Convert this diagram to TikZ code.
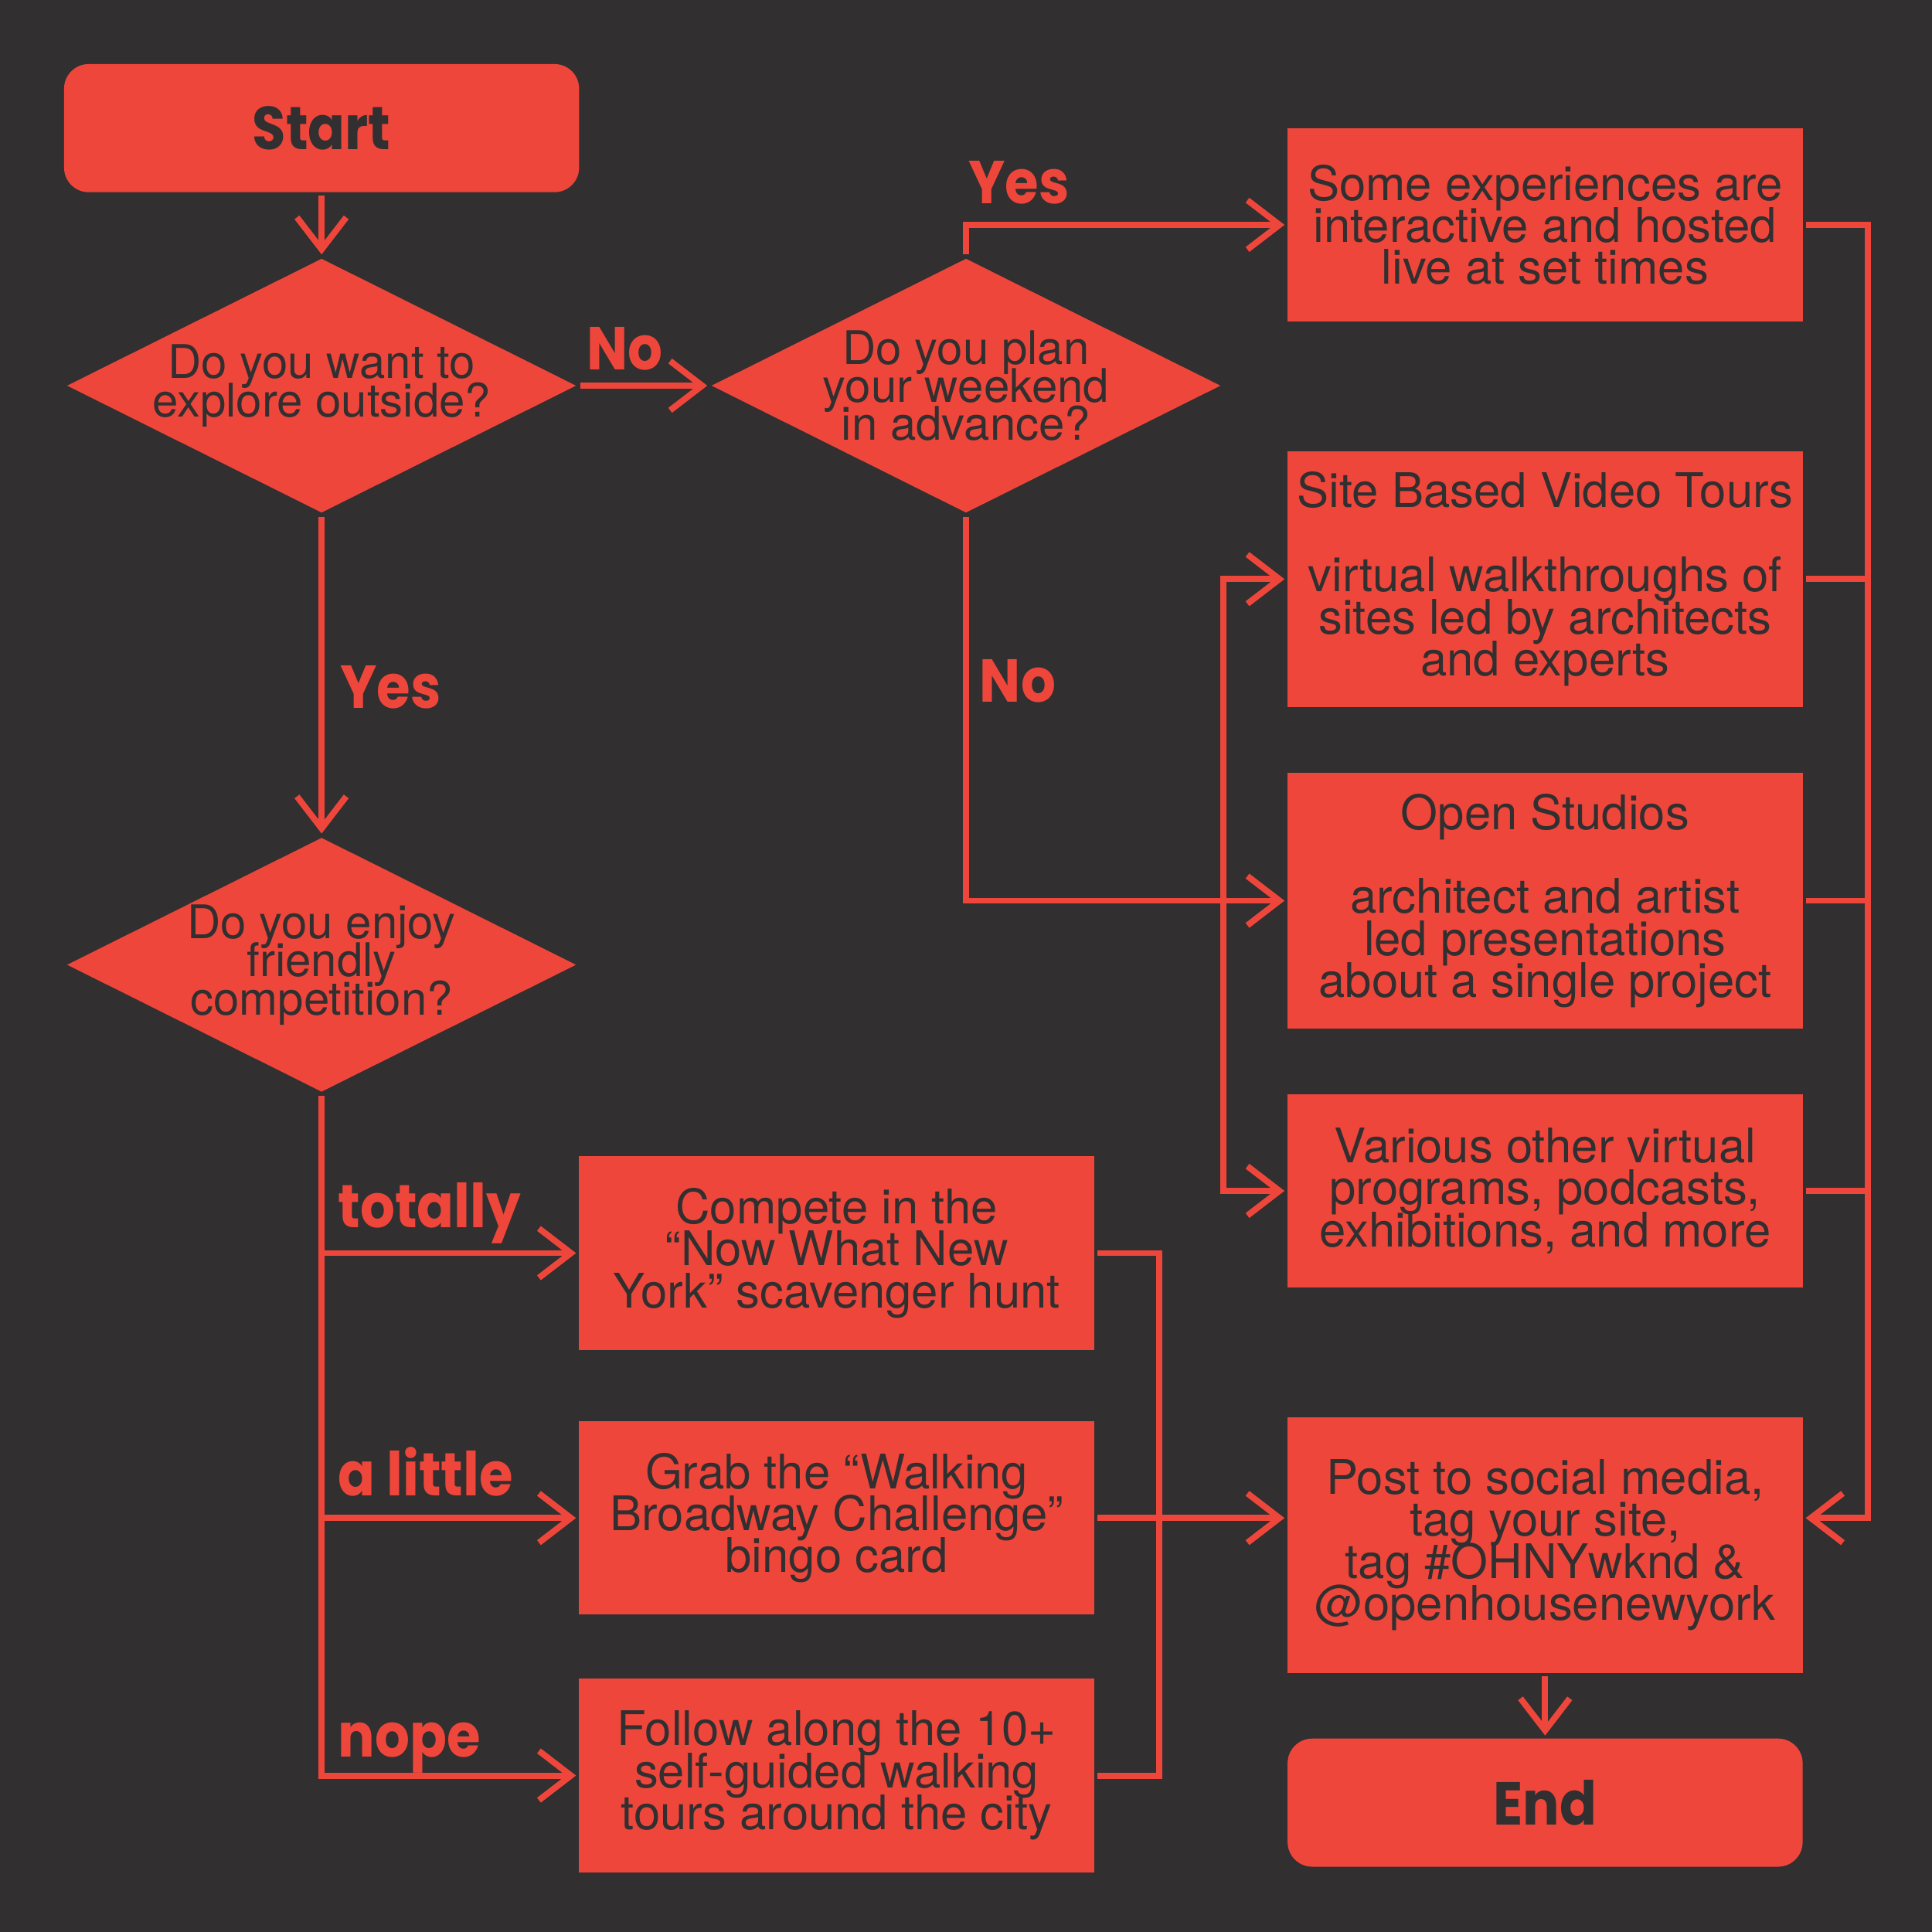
\documentclass[tikz,border=0pt]{standalone}
\usepackage{fontspec}
\setmainfont{TeX Gyre Heros}
\newfontfamily\labelfont{Poppins}[FakeStretch=0.9]
\usetikzlibrary{shapes.geometric, arrows.meta}
\definecolor{ohnybg}{HTML}{312F30}
\definecolor{ohnyred}{HTML}{EF463B}
\newcommand\tightlines{\lineskiplimit=-10pt\relax}
\begin{document}
\begin{tikzpicture}[line width=0.05cm,
    box/.style={rectangle, fill=ohnyred, text=ohnybg, minimum width=4.18cm, minimum height=1.57cm,
        inner sep=0pt, align=center, font=\fontsize{11}{9.7}\selectfont\tightlines},
    tall/.style={box, minimum height=2.08cm},
    terminal/.style={box, rounded corners=0.2cm, minimum height=1.04cm, font=\labelfont\bfseries\fontsize{14}{14}\selectfont},
    decision/.style={diamond, shape aspect=2, fill=ohnyred, text=ohnybg, minimum width=4.15cm, minimum height=2.08cm,
        inner sep=-6pt, align=center, font=\fontsize{10.7}{8.8}\selectfont\tightlines},
    lbl/.style={text=ohnyred, inner sep=0pt, font=\labelfont\bfseries\fontsize{14}{14}\selectfont},
    link/.style={draw=ohnyred},
    arr/.style={link, -{Straight Barb[length=2.6mm, width=4mm]}},
    twoarr/.style={link, {Straight Barb[length=2.6mm, width=4mm]}-{Straight Barb[length=2.6mm, width=4mm]}}]
\fill[ohnybg] (0,0) rectangle (15.68,-15.68);
\useasboundingbox (0,0) rectangle (15.68,-15.68);
% questions
\node[terminal] (start) at (2.61,-1.04) {Start};
\node[decision] (outside) at (2.61,-3.13) {Do you want to\\explore outside?};
\node[decision] (plan) at (7.84,-3.13) {Do you plan\\your weekend\\in advance?};
\node[decision] (friendly) at (2.61,-7.83) {Do you enjoy\\friendly\\competition?};
% virtual options
\node[box] (live) at (12.54,-1.825) {Some experiences are\\interactive and hosted\\live at set times};
\node[tall] (site) at (12.54,-4.70) {Site Based Video Tours\\[\baselineskip]virtual walkthroughs of\\sites led by architects\\and experts};
\node[tall] (studios) at (12.54,-7.31) {Open Studios\\[\baselineskip]architect and artist\\led presentations\\about a single project};
\node[box] (various) at (12.54,-9.665) {Various other virtual\\programs, podcasts,\\exhibitions, and more};
% outside options
\node[box] (hunt) at (6.79,-10.17) {Compete in the\\“Now What New\\York” scavenger hunt};
\node[box] (bingo) at (6.79,-12.32) {Grab the “Walking\\Broadway Challenge”\\bingo card};
\node[box] (tours) at (6.79,-14.41) {Follow along the 10+\\self-guided walking\\tours around the city};
% finish
\node[tall] (post) at (12.54,-12.54) {Post to social media,\\tag your site,\\tag \#OHNYwknd \&\\@openhousenewyork};
\node[terminal] (end) at (12.54,-14.63) {End};
\coordinate (fork) at (9.93,-7.31);
\coordinate (merge) at (9.41,-12.32);
\coordinate (rail) at (15.16,-12.32);

\draw[arr] (start) -- (outside);
\draw[arr] (outside) -- (plan);
\node[lbl, anchor=base] at (5.07,-3.00) {No};
\draw[arr] (outside) -- (friendly);
\node[lbl, anchor=base] at (3.17,-5.75) {Yes};
\draw[arr] (plan.north) |- (live);
\node[lbl, anchor=base] at (8.27,-1.65) {Yes};
\draw[arr] (plan.south) |- (studios);
\node[lbl, anchor=base] at (8.26,-5.70) {No};
\draw[twoarr] (site) -| (fork) |- (various);

\draw[arr] (friendly) |- (tours);
\draw[arr] (friendly.south |- hunt) -- (hunt);
\draw[arr] (friendly.south |- bingo) -- (bingo);
\node[lbl, anchor=base west] at (2.72,-9.96) {totally};
\node[lbl, anchor=base west] at (2.72,-12.14) {a little};
\node[lbl, anchor=base west] at (2.72,-14.26) {nope};

\draw[link] (hunt) -| (merge) |- (tours);
\draw[arr] (bingo) -- (bingo -| post.west);
\draw[arr] (live) -| (rail) -- (rail -| post.east);
\draw[link] (site) -- (site -| rail);
\draw[link] (studios) -- (studios -| rail);
\draw[link] (various) -- (various -| rail);
\draw[arr] (post) -- (end);
\end{tikzpicture}
\end{document}
